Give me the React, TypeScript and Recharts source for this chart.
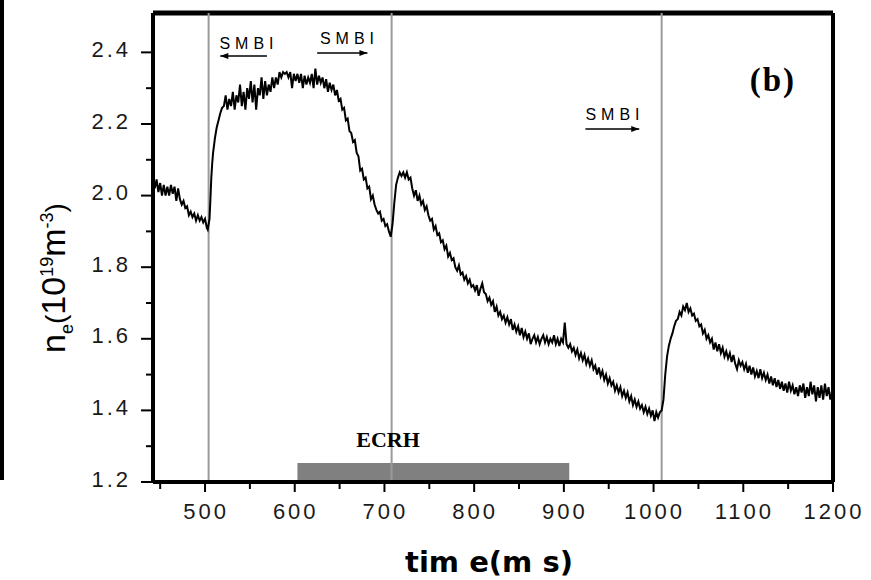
import { LineChart, Line, XAxis, YAxis, ReferenceLine, ReferenceArea, ReferenceDot } from "recharts";

// density trace n_e (10^19 m^-3) vs time (ms)
const preSmbi: [number, number][] = [
  [444, 2.02], [446, 2.045], [448, 2.01], [450, 2.035], [452, 2.0], [454, 2.03], [456, 2.0], [458, 2.025],
  [460, 2.0], [462, 2.03], [464, 2.005], [466, 2.025], [468, 1.985], [470, 2.02], [472, 1.99], [474, 1.975],
  [476, 1.985], [478, 1.965], [480, 1.97], [482, 1.945], [484, 1.955], [486, 1.94], [488, 1.95], [490, 1.93],
  [492, 1.945], [494, 1.93], [496, 1.94], [498, 1.925], [500, 1.935], [502, 1.91], [503, 1.905], [505, 1.935],
];

const smbiRise: [number, number][] = [
  [506, 1.99], [507, 2.05], [508, 2.09], [509, 2.12], [511, 2.16], [513, 2.19], [515, 2.21], [517, 2.23],
  [519, 2.245], [521, 2.25], [523, 2.28], [525, 2.24], [527, 2.27], [529, 2.25], [531, 2.29], [533, 2.24],
  [535, 2.28], [537, 2.26], [539, 2.31], [541, 2.25], [543, 2.29], [545, 2.24], [547, 2.3], [549, 2.27],
  [551, 2.32], [553, 2.26], [555, 2.31], [557, 2.24], [559, 2.3], [561, 2.28], [563, 2.33], [565, 2.27],
  [567, 2.32], [569, 2.28], [571, 2.31], [573, 2.29], [575, 2.33], [577, 2.3], [579, 2.33], [581, 2.31],
  [583, 2.345], [585, 2.33], [587, 2.345], [589, 2.34], [591, 2.345], [593, 2.33], [595, 2.345], [597, 2.3],
  [599, 2.34], [601, 2.32],
];

const plateau: [number, number][] = [
  [603, 2.34], [605, 2.315], [607, 2.34], [609, 2.3], [611, 2.335], [613, 2.31], [615, 2.33], [617, 2.315],
  [619, 2.34], [621, 2.3], [623, 2.355], [625, 2.31], [627, 2.335], [629, 2.315], [631, 2.33], [633, 2.3],
  [635, 2.325], [637, 2.29], [639, 2.315], [641, 2.295], [643, 2.31], [645, 2.28], [647, 2.295], [649, 2.265],
  [651, 2.27],
];

const ecrhDrop: [number, number][] = [
  [653, 2.24], [655, 2.245], [657, 2.21], [659, 2.215], [661, 2.18], [663, 2.175], [665, 2.15], [667, 2.155],
  [669, 2.12], [671, 2.11], [673, 2.07], [675, 2.075], [677, 2.045], [679, 2.05], [681, 2.02], [683, 2.025],
  [685, 1.99], [687, 2.0], [689, 1.975], [691, 1.96], [693, 1.95], [695, 1.955], [697, 1.93], [699, 1.935],
  [701, 1.915], [703, 1.92], [705, 1.9], [707, 1.885],
];

const secondPulse: [number, number][] = [
  [709, 1.92], [711, 1.98], [713, 2.03], [715, 2.05], [717, 2.065], [719, 2.055], [721, 2.065], [723, 2.05],
  [725, 2.065], [727, 2.045], [729, 2.05], [731, 2.02], [733, 2.0], [735, 2.015], [737, 1.985], [739, 2.0],
  [741, 1.975], [743, 1.985], [745, 1.96], [747, 1.97], [749, 1.945], [751, 1.93], [753, 1.935], [755, 1.905],
  [757, 1.915], [759, 1.89], [761, 1.895], [763, 1.87], [765, 1.875], [767, 1.85], [769, 1.86], [771, 1.83],
  [773, 1.84], [775, 1.82], [777, 1.825], [779, 1.8], [781, 1.79], [783, 1.805], [785, 1.78], [787, 1.785],
  [789, 1.765], [791, 1.775], [793, 1.755], [795, 1.765], [797, 1.745], [799, 1.75],
];

const slowDecay: [number, number][] = [
  [801, 1.735], [803, 1.75], [805, 1.72], [807, 1.74], [809, 1.755], [811, 1.73], [813, 1.725], [815, 1.705],
  [817, 1.715], [819, 1.695], [821, 1.705], [823, 1.675], [825, 1.69], [827, 1.665], [829, 1.675], [831, 1.655],
  [833, 1.665], [835, 1.645], [837, 1.66], [839, 1.64], [841, 1.655], [843, 1.625], [845, 1.64], [847, 1.62],
  [849, 1.635], [851, 1.61], [853, 1.63], [855, 1.605], [857, 1.62], [859, 1.6], [861, 1.615], [863, 1.585],
  [865, 1.6], [867, 1.61], [869, 1.59], [871, 1.605], [873, 1.585], [875, 1.6], [877, 1.61], [879, 1.59],
  [881, 1.605], [883, 1.585], [885, 1.6], [887, 1.59], [889, 1.61], [891, 1.585], [893, 1.6], [895, 1.58],
  [897, 1.6], [899, 1.59], [901, 1.645], [903, 1.585], [905, 1.575], [907, 1.585], [909, 1.565], [911, 1.575],
  [913, 1.555], [915, 1.57], [917, 1.545], [919, 1.56], [921, 1.54], [923, 1.555], [925, 1.53], [927, 1.545],
  [929, 1.525], [931, 1.54], [933, 1.515], [935, 1.525], [937, 1.5], [939, 1.52], [941, 1.495], [943, 1.51],
  [945, 1.485], [947, 1.5], [949, 1.475], [951, 1.49], [953, 1.47], [955, 1.48], [957, 1.455], [959, 1.47],
  [961, 1.45], [963, 1.465], [965, 1.44], [967, 1.455], [969, 1.435], [971, 1.45], [973, 1.425], [975, 1.44],
  [977, 1.415], [979, 1.43], [981, 1.41], [983, 1.425], [985, 1.405], [987, 1.415], [989, 1.395], [991, 1.41],
  [993, 1.39], [995, 1.405], [997, 1.385], [999, 1.4], [1001, 1.37], [1003, 1.395], [1005, 1.38], [1007, 1.395],
];

const thirdPulse: [number, number][] = [
  [1009, 1.4], [1011, 1.43], [1013, 1.5], [1015, 1.55], [1017, 1.58], [1019, 1.6], [1021, 1.615], [1023, 1.635],
  [1025, 1.65], [1027, 1.655], [1029, 1.675], [1031, 1.665], [1033, 1.69], [1035, 1.68], [1037, 1.7], [1039, 1.675],
  [1041, 1.685], [1043, 1.665], [1045, 1.67], [1047, 1.65], [1049, 1.655], [1051, 1.635], [1053, 1.64], [1055, 1.615],
  [1057, 1.625], [1059, 1.6], [1061, 1.61], [1063, 1.59], [1065, 1.6], [1067, 1.57], [1069, 1.59], [1071, 1.565],
  [1073, 1.585], [1075, 1.56], [1077, 1.575], [1079, 1.55], [1081, 1.565], [1083, 1.545], [1085, 1.56], [1087, 1.535],
  [1089, 1.555], [1091, 1.53], [1093, 1.515], [1095, 1.54], [1097, 1.525], [1099, 1.535], [1101, 1.515], [1103, 1.53],
  [1105, 1.505], [1107, 1.525], [1109, 1.5], [1111, 1.52], [1113, 1.495], [1115, 1.51], [1117, 1.49], [1119, 1.515],
  [1121, 1.49], [1123, 1.505], [1125, 1.485], [1127, 1.5], [1129, 1.475], [1131, 1.495], [1133, 1.47], [1135, 1.49],
  [1137, 1.465], [1139, 1.485], [1141, 1.46], [1143, 1.48], [1145, 1.455], [1147, 1.475], [1149, 1.45], [1151, 1.48],
  [1153, 1.455], [1155, 1.47], [1157, 1.445], [1159, 1.465], [1161, 1.44], [1163, 1.47], [1165, 1.45], [1167, 1.475],
  [1169, 1.435], [1171, 1.465], [1173, 1.44], [1175, 1.48], [1177, 1.445], [1179, 1.47], [1181, 1.425], [1183, 1.465],
  [1185, 1.435], [1187, 1.47], [1189, 1.43], [1191, 1.475], [1193, 1.44], [1195, 1.465], [1197, 1.43], [1199, 1.455],
  [1200, 1.44],
];

const X_TICKS = [450, 500, 550, 600, 650, 700, 750, 800, 850, 900, 950, 1000, 1050, 1100, 1150, 1200];
const Y_TICKS = [1.2, 1.3, 1.4, 1.5, 1.6, 1.7, 1.8, 1.9, 2.0, 2.1, 2.2, 2.3, 2.4];
const X_DOMAIN: [number, number] = [442, 1200];
const Y_DOMAIN: [number, number] = [1.2, 2.51];

// gas puff (SMBI) times and the ECRH window
const SMBI_TIMES = [504, 708, 1009];
const ECRH_WINDOW: [number, number] = [603, 906];

const data = [...preSmbi, ...smbiRise, ...plateau, ...ecrhDrop, ...secondPulse, ...slowDecay, ...thirdPulse].map(
  ([t, v]) => ({ t, v })
);

const TICK_FONT = { fontFamily: "'Liberation Sans', Arial, sans-serif", fontSize: 22, fill: "#1a1a1a", letterSpacing: 3 };

function XTick(props: any) {
  const { x, y, payload } = props;
  const major = payload.value % 100 === 0;
  const axisY = y - 20;
  return (
    <g>
      <line x1={x} x2={x} y1={axisY} y2={axisY + (major ? 10 : 7)} stroke="#000" strokeWidth={2} />
      {major && (
        <text x={x + 1} y={axisY + 21} dy="0.71em" textAnchor="middle" {...TICK_FONT}>
          {payload.value}
        </text>
      )}
    </g>
  );
}

function YTick(props: any) {
  const { x, y, payload } = props;
  const v = payload.value as number;
  const major = Math.round(v * 10) % 2 === 0;
  const axisX = x + 24;
  return (
    <g>
      <line x1={axisX - (major ? 12 : 7)} x2={axisX} y1={y} y2={y} stroke="#000" strokeWidth={2} />
      {major && (
        <text x={x + 2} y={y - 3} dy="0.35em" textAnchor="end" {...TICK_FONT}>
          {v.toFixed(1)}
        </text>
      )}
    </g>
  );
}

const arrowHead = (dir: 1 | -1) => (p: any) => (
  <polygon
    points={`${p.cx},${p.cy} ${p.cx - dir * 8},${p.cy - 3} ${p.cx - dir * 8},${p.cy + 3}`}
    fill="#000"
  />
);

const textMark = (text: string, style: Record<string, any>) => (p: any) => (
  <text x={p.cx} y={p.cy} textAnchor="middle" dominantBaseline="central" fill="#000" {...style}>
    {text}
  </text>
);

const smbiStyle = { fontFamily: "'Liberation Sans', Arial, sans-serif", fontSize: 16, letterSpacing: 5 };

export default function App() {
  return (
    <div style={{ position: "absolute", left: 0, top: 0, width: 871, height: 580, background: "#fff" }}>
      <div style={{ position: "absolute", left: 0, top: 0, width: 4, height: 480, background: "#000" }} />
      <LineChart width={871} height={580} data={data} margin={{ top: 13, right: 38, bottom: 58, left: 3 }}>
        <XAxis
          dataKey="t"
          type="number"
          domain={X_DOMAIN}
          allowDataOverflow
          ticks={X_TICKS}
          interval={0}
          height={40}
          tickSize={10}
          tickMargin={10}
          tickLine={false}
          tick={<XTick />}
          axisLine={{ stroke: "#000", strokeWidth: 4 }}
        />
        <YAxis
          type="number"
          domain={Y_DOMAIN}
          allowDataOverflow
          ticks={Y_TICKS}
          interval={0}
          width={150}
          tickSize={12}
          tickMargin={12}
          tickLine={false}
          tick={<YTick />}
          axisLine={{ stroke: "#000", strokeWidth: 4 }}
        />
        <ReferenceLine y={Y_DOMAIN[1]} stroke="#000" strokeWidth={5} />
        <ReferenceLine x={X_DOMAIN[1]} stroke="#000" strokeWidth={4} />
        {SMBI_TIMES.map((t) => (
          <ReferenceLine key={t} x={t} stroke="#9a9a9a" strokeWidth={2} />
        ))}
        <ReferenceArea
          x1={ECRH_WINDOW[0]}
          x2={ECRH_WINDOW[1]}
          y1={1.2}
          y2={1.253}
          fill="#808080"
          fillOpacity={1}
          stroke="none"
        />
        <ReferenceDot x={704} y={1.32} r={1} shape={textMark("ECRH", { fontFamily: "'Liberation Serif', serif", fontWeight: 700, fontSize: 22 })} />
        <ReferenceDot x={1133} y={2.323} r={1} shape={textMark("(b)", { fontFamily: "'Liberation Serif', serif", fontWeight: 700, fontSize: 33, letterSpacing: 2 })} />

        <ReferenceDot x={549} y={2.426} r={1} shape={textMark("SMBI", smbiStyle)} />
        <ReferenceLine segment={[{ x: 517, y: 2.39 }, { x: 569, y: 2.39 }]} stroke="#000" strokeWidth={1.5} />
        <ReferenceDot x={517} y={2.39} r={1} shape={arrowHead(-1)} />

        <ReferenceDot x={661} y={2.439} r={1} shape={textMark("SMBI", smbiStyle)} />
        <ReferenceLine segment={[{ x: 625, y: 2.398 }, { x: 681, y: 2.398 }]} stroke="#000" strokeWidth={1.5} />
        <ReferenceDot x={681} y={2.398} r={1} shape={arrowHead(1)} />

        <ReferenceDot x={957} y={2.227} r={1} shape={textMark("SMBI", smbiStyle)} />
        <ReferenceLine segment={[{ x: 924, y: 2.186 }, { x: 984, y: 2.186 }]} stroke="#000" strokeWidth={1.5} />
        <ReferenceDot x={984} y={2.186} r={1} shape={arrowHead(1)} />

        <Line type="linear" dataKey="v" stroke="#000" strokeWidth={2} dot={false} isAnimationActive={false} />
      </LineChart>

      <div
        style={{
          position: "absolute",
          left: 47 - 150,
          top: 278 - 22,
          width: 300,
          height: 44,
          lineHeight: "44px",
          textAlign: "center",
          transform: "rotate(-90deg)",
          fontFamily: "'Liberation Sans', Arial, sans-serif",
          fontSize: 34,
          color: "#000",
          whiteSpace: "nowrap",
        }}
      >
        n<sub style={{ fontSize: 18 }}>e</sub>
        <span style={{ fontSize: 28 }}>(</span>10<sup style={{ fontSize: 18 }}>19</sup>m<sup style={{ fontSize: 18 }}>-3</sup>
        <span style={{ fontSize: 28 }}>)</span>
      </div>
      <div
        style={{
          position: "absolute",
          left: 489 - 150,
          top: 548,
          width: 300,
          lineHeight: "29px",
          textAlign: "center",
          fontFamily: "'DejaVu Sans', sans-serif",
          fontWeight: 700,
          fontSize: 29,
          color: "#000",
          whiteSpace: "nowrap",
        }}
      >
        tim e(m s)
      </div>
    </div>
  );
}
